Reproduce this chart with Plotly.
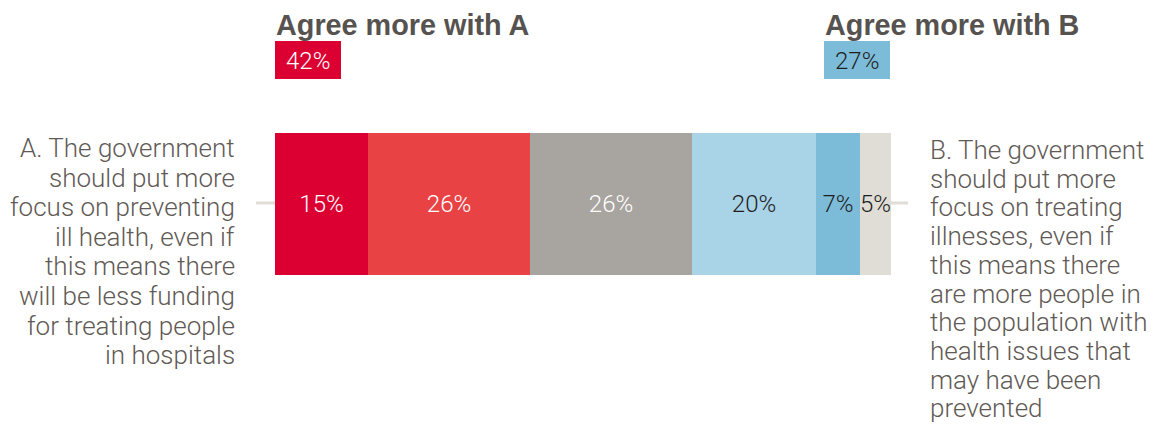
import plotly.graph_objects as go

# Response shares, from strongly agree with A to neither / don't know
segments = ["Strongly A", "Tend to A", "Neutral", "Tend to B", "Strongly B", "Don't know"]
shares = [15, 26, 26, 20, 7, 5]
seg_colors = ["#dc0032", "#e84245", "#a8a4a0", "#a9d3e6", "#7dbcd9", "#e0ddd6"]
label_colors = ["#ffffff", "#ffffff", "#ffffff", "#1e1e1e", "#1e1e1e", "#1e1e1e"]

summary_titles = ["Agree more with A", "Agree more with B"]
summary_values = [42, 27]
summary_colors = ["#dc0032", "#7dbcd9"]
summary_text_colors = ["#ffffff", "#1e1e1e"]

statement_a = [
    "A. The government",
    "should put more",
    "focus on preventing",
    "ill health, even if",
    "this means there",
    "will be less funding",
    "for treating people",
    "in hospitals",
]
statement_b = [
    "B. The government",
    "should put more",
    "focus on treating",
    "illnesses, even if",
    "this means there",
    "are more people in",
    "the population with",
    "health issues that",
    "may have been",
    "prevented",
]

W, H = 1154, 432
FONT = "Roboto"
HEAD_FONT = "Liberation Sans"
TEXT_GREY = "#5f5a55"


def px_x(x):
    return x / W


def px_y(y):
    return 1 - y / H


fig = go.Figure()
for name, val, col, tcol in zip(segments, shares, seg_colors, label_colors):
    fig.add_trace(go.Bar(
        y=[0], x=[val], orientation="h", name=name,
        marker=dict(color=col, line=dict(width=0)),
        width=1,
        text=[f"{val}%"], textposition="inside", insidetextanchor="middle",
        textangle=0, constraintext="none",
        textfont=dict(family=FONT, size=24, color=tcol, weight=300),
        hoverinfo="skip",
    ))

bar_left, bar_right = 275, 891
bar_top, bar_bottom = 133, 275

shapes = [
    # thin rule running through the bar
    dict(type="line", xref="paper", yref="paper",
         x0=px_x(256), x1=px_x(908), y0=px_y(203), y1=px_y(203),
         line=dict(color="#e0ddd6", width=3), layer="below"),
]
annotations = []

# summary headers with coloured value boxes
for title, val, col, tcol, x0 in zip(summary_titles, summary_values, summary_colors,
                                      summary_text_colors, [275, 824]):
    annotations.append(dict(
        xref="paper", yref="paper", x=px_x(x0 - 1), y=px_y(25),
        xanchor="left", yanchor="middle", showarrow=False, text=title,
        font=dict(family=HEAD_FONT, size=28.8, color="#56524f", weight="bold"),
    ))
    shapes.append(dict(type="rect", xref="paper", yref="paper",
                       x0=px_x(x0), x1=px_x(x0 + 66), y0=px_y(79), y1=px_y(41),
                       fillcolor=col, line=dict(width=0)))
    annotations.append(dict(
        xref="paper", yref="paper", x=px_x(x0 + 33), y=px_y(61),
        xanchor="center", yanchor="middle", showarrow=False, text=f"{val}%",
        font=dict(family=FONT, size=24, color=tcol, weight=300),
    ))

# statement texts, one line at a time
for i, line in enumerate(statement_a):
    annotations.append(dict(
        xref="paper", yref="paper", x=px_x(237), y=px_y(148 + i * 29.6),
        xanchor="right", yanchor="middle", showarrow=False, text=line,
        font=dict(family=FONT, size=26, color=TEXT_GREY, weight=300),
    ))
for i, line in enumerate(statement_b):
    annotations.append(dict(
        xref="paper", yref="paper", x=px_x(928), y=px_y(150 + i * 28.7),
        xanchor="left", yanchor="middle", showarrow=False, text=line,
        font=dict(family=FONT, size=26, color=TEXT_GREY, weight=300),
    ))

fig.update_layout(
    width=W, height=H,
    margin=dict(l=0, r=0, t=0, b=0),
    paper_bgcolor="white", plot_bgcolor="rgba(0,0,0,0)",
    barmode="stack", bargap=0, showlegend=False,
    xaxis=dict(domain=[px_x(bar_left), px_x(bar_right)], range=[0, sum(shares)],
               visible=False, fixedrange=True),
    yaxis=dict(domain=[px_y(bar_bottom), px_y(bar_top)], range=[-0.5, 0.5],
               visible=False, fixedrange=True),
    shapes=shapes, annotations=annotations,
    font=dict(family=FONT),
)

fig.write_html("out.html")
